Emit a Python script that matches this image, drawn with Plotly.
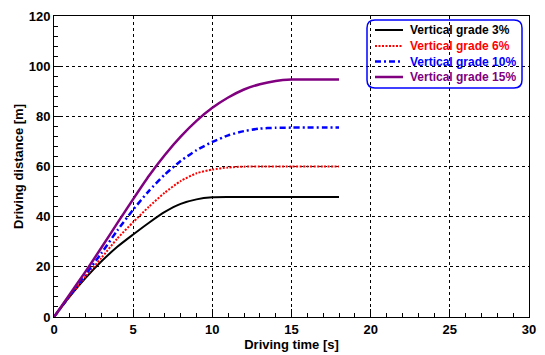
import plotly.graph_objects as go

# Data
time_s = list(range(0, 19))
grade_3 = [0, 8.2, 15.6, 22.2, 28.0, 32.9, 37.6, 41.9, 45.1, 46.9, 47.7, 47.8, 47.8, 47.8, 47.8, 47.8, 47.8, 47.8, 47.8]
grade_6 = [0, 8.3, 16.2, 23.6, 31.3, 37.8, 44.0, 49.6, 54.2, 57.3, 58.8, 59.6, 59.95, 60.0, 60.0, 60.0, 60.0, 60.0, 60.0]
grade_10 = [0, 8.6, 17.0, 25.5, 34.5, 42.8, 50.3, 56.8, 62.2, 66.5, 69.8, 72.4, 74.1, 75.1, 75.45, 75.5, 75.5, 75.5, 75.5]
grade_15 = [0, 9.1, 18.2, 27.7, 37.4, 47.0, 56.3, 64.6, 71.9, 78.2, 83.4, 87.5, 90.7, 92.8, 94.1, 94.65, 94.7, 94.7, 94.7]

series = [
    ("Vertical grade 3%", grade_3, "black", "solid", 2),
    ("Vertical grade 6%", grade_6, "#ff0000", "2px,1.5px", 2),
    ("Vertical grade 10%", grade_10, "#0000ff", "6px,3px,2px,3px", 2.5),
    ("Vertical grade 15%", grade_15, "#800080", "solid", 2.5),
]

W, H = 545, 355
ml, mr, mt, mb = 54, 16, 16, 38
pw, ph = W - ml - mr, H - mt - mb

def px_x(p):
    return (p - ml) / pw

def px_y(p):
    return (H - mb - p) / ph

fig = go.Figure()
for name, vals, color, dash, width in series:
    fig.add_trace(go.Scatter(
        x=time_s, y=vals, mode="lines", name=name,
        line=dict(color=color, dash=dash, width=width, shape="spline", smoothing=0.6),
        showlegend=False,
    ))

FAM = "Liberation Sans, Arial, sans-serif"
font_main = dict(family=FAM, size=13, color="black")

axis_common = dict(
    showline=True, linecolor="black", linewidth=1, mirror=True,
    ticks="inside", ticklen=8, tickcolor="black", tickwidth=1,
    showgrid=True, gridcolor="black", griddash="dot", gridwidth=1,
    zeroline=False, automargin=False,
    tickfont=dict(family=FAM, size=13, color="black"),
    tickprefix="<b>", ticksuffix="</b>",
)

fig.update_xaxes(
    range=[0, 30], dtick=5, tick0=0,
    minor=dict(dtick=1, ticks="inside", ticklen=4, tickcolor="black", showgrid=False),
    title=dict(text="<b>Driving time [s]</b>", font=font_main, standoff=0),
    **axis_common,
)
fig.update_yaxes(
    range=[0, 120], dtick=20, tick0=0,
    minor=dict(dtick=4, ticks="inside", ticklen=4, tickcolor="black", showgrid=False),
    title=dict(text="<b>Driving distance [m]</b>", font=font_main, standoff=2),
    **axis_common,
)

# Manual legend (rounded box, line samples, coloured labels)
bx0, bx1, by0, by1, r = 367, 522, 20, 88, 8
X0, X1 = px_x(bx0), px_x(bx1)
Y0, Y1 = px_y(by1), px_y(by0)
rx, ry = r / pw, r / ph
path = (f"M {X0+rx},{Y0} L {X1-rx},{Y0} Q {X1},{Y0} {X1},{Y0+ry} "
        f"L {X1},{Y1-ry} Q {X1},{Y1} {X1-rx},{Y1} "
        f"L {X0+rx},{Y1} Q {X0},{Y1} {X0},{Y1-ry} "
        f"L {X0},{Y0+ry} Q {X0},{Y0} {X0+rx},{Y0} Z")
shapes = [dict(type="path", xref="paper", yref="paper", path=path,
               line=dict(color="#0000ff", width=1.5), fillcolor="rgba(0,0,0,0)")]
annotations = []
row_y = [30, 46, 61.5, 77]
for (name, vals, color, dash, width), ry_px in zip(series, row_y):
    shapes.append(dict(type="line", xref="paper", yref="paper",
                       x0=px_x(375), x1=px_x(403), y0=px_y(ry_px), y1=px_y(ry_px),
                       line=dict(color=color, dash=dash, width=width)))
    annotations.append(dict(xref="paper", yref="paper", x=px_x(408), y=px_y(ry_px),
                            xanchor="left", yanchor="middle", showarrow=False,
                            text=f"<b>{name}</b>",
                            font=dict(family=FAM, size=12, color=color)))

fig.update_layout(
    width=W, height=H,
    margin=dict(l=ml, r=mr, t=mt, b=mb, autoexpand=False),
    paper_bgcolor="white", plot_bgcolor="white",
    shapes=shapes, annotations=annotations,
    font=font_main,
)

fig.write_html("out.html", config={"displayModeBar": False},
               post_script="document.body.style.margin='0';document.body.style.overflow='hidden';")
